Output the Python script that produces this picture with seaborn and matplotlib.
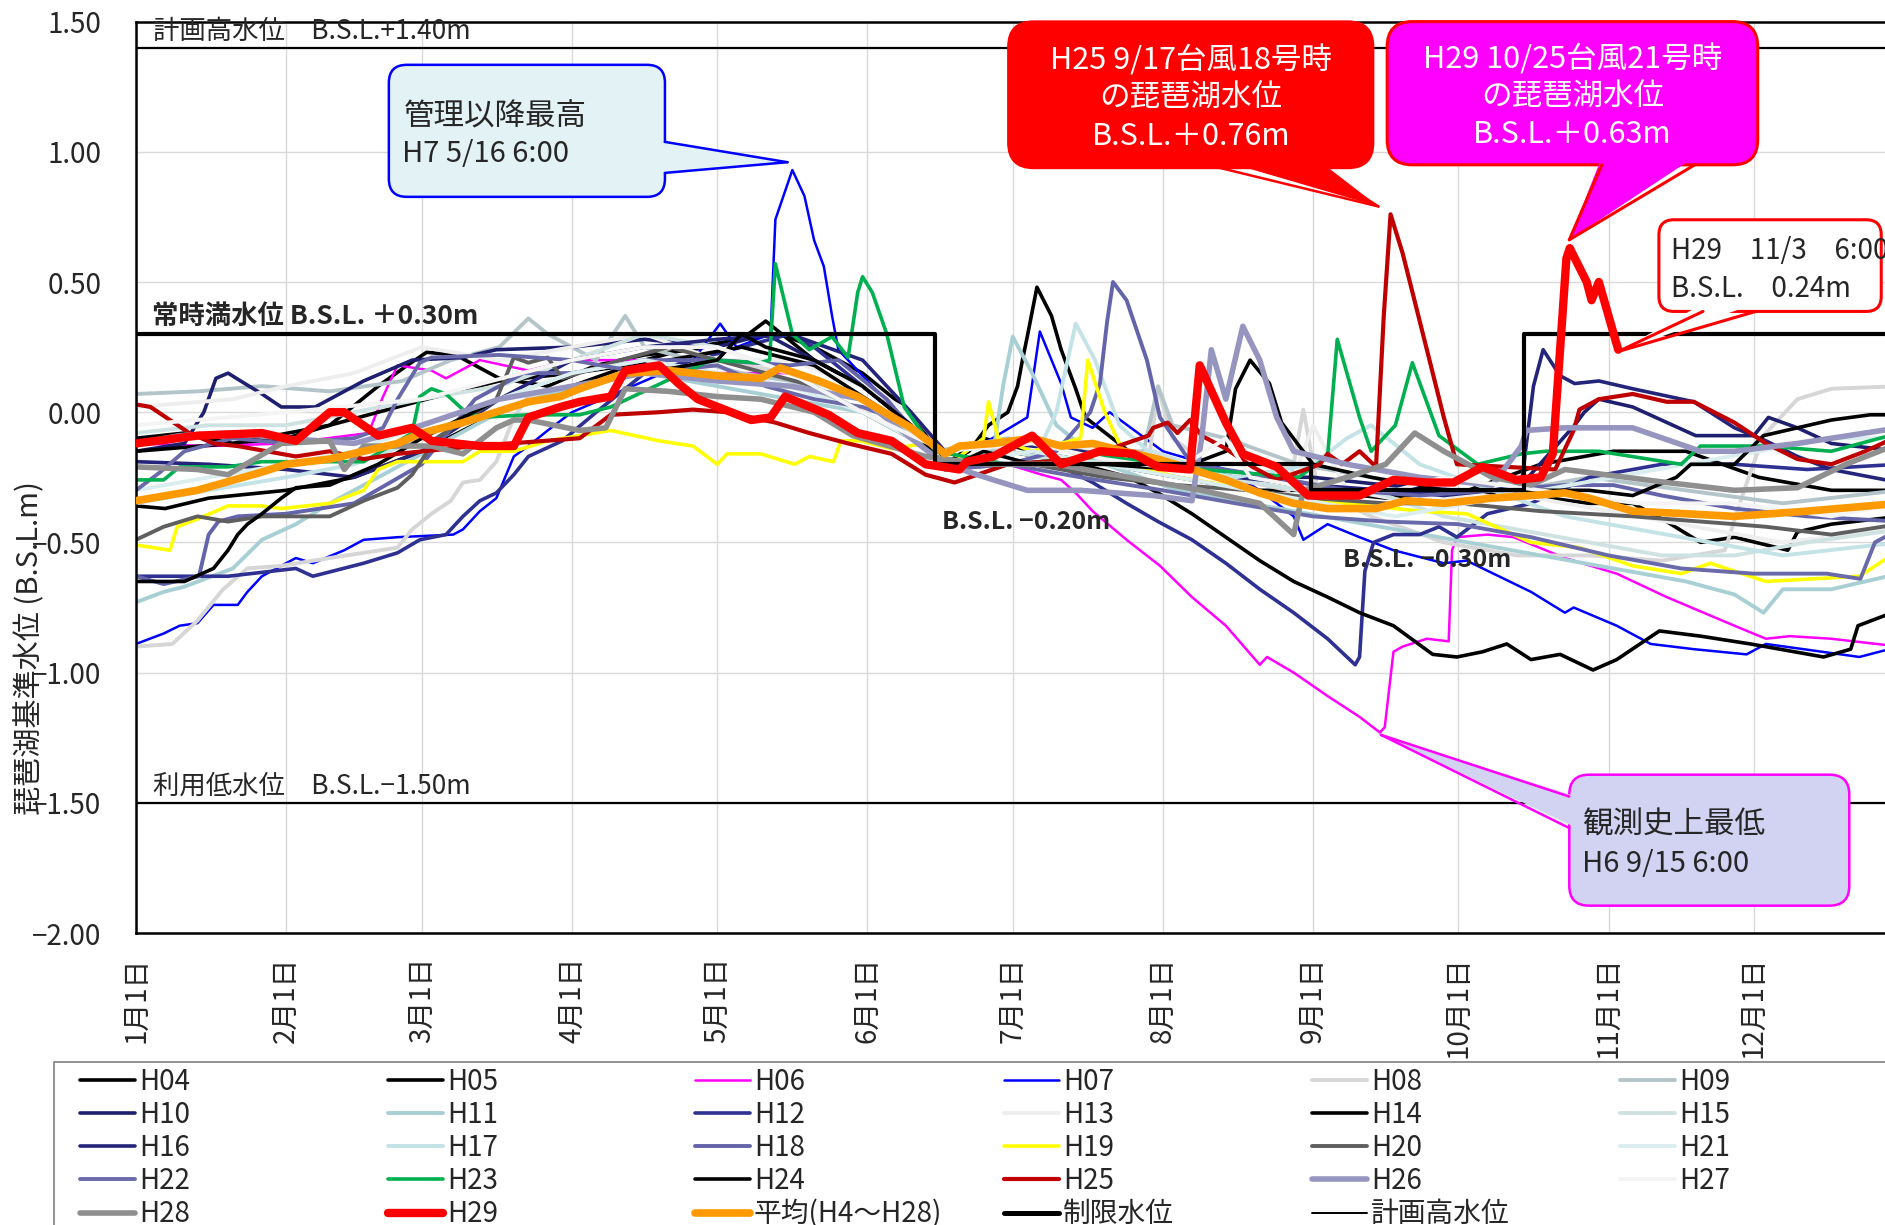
import matplotlib
matplotlib.use("Agg")
import matplotlib.pyplot as plt
from matplotlib.lines import Line2D
from matplotlib.patches import FancyBboxPatch, Polygon, Rectangle
import pandas as pd
import seaborn as sns

# (day counted from Jan 1, lake level B.S.L. m)
H04 = [(0,-0.10),(10,-0.08),(20,-0.12),(31,-0.10),(40,-0.05),(50,0.10),(56,0.18),(60,0.23),(66,0.22),(75,0.13),
       (85,0.10),(95,0.18),(105,0.22),(115,0.24),(125,0.28),(130,0.35),(140,0.20),(150,0.10),(160,-0.05),(167,-0.20),
       (175,-0.10),(185,-0.15),(200,-0.20),(215,-0.25),(230,-0.30),(243,-0.30),(258,-0.33),(273,-0.30),(288,-0.32),
       (300,-0.35),(309,-0.35),(316,-0.42),(323,-0.50),(330,-0.48),(341,-0.53),(343,-0.46),(350,-0.43),(364,-0.40)]
H05 = [(0,-0.36),(6,-0.37),(15,-0.33),(31,-0.30),(45,-0.25),(59,-0.15),(75,0.0),(90,0.10),(105,0.20),(115,0.25),
       (125,0.28),(133,0.30),(140,0.25),(150,0.15),(160,0.0),(167,-0.20),(172,-0.15),(176,-0.05),(180,0.0),(182,0.10),
       (183,0.20),(184,0.29),(186,0.48),(189,0.37),(191,0.24),(194,0.09),(196,-0.02),(205,-0.15),(215,-0.20),
       (230,-0.25),(245,-0.30),(260,-0.32),(275,-0.30),(290,-0.20),(305,-0.15),(320,-0.15),(335,-0.25),(350,-0.30),
       (364,-0.30)]
H06 = [(0,-0.12),(15,-0.13),(31,-0.12),(48,-0.08),(51,0.06),(54,0.18),(61,0.16),(64,0.13),(71,0.20),(81,0.16),
       (90,0.20),(105,0.20),(120,0.15),(135,0.15),(150,0.05),(160,-0.08),(167,-0.20),(180,-0.20),(187,-0.24),
       (191,-0.26),(194,-0.31),(197.5,-0.38),(204.5,-0.49),(211.4,-0.59),(218,-0.71),(225,-0.82),(232,-0.97),
       (233.5,-0.94),(239,-1.00),(246,-1.09),(252.6,-1.17),(256.8,-1.23),(257.8,-1.21),(259.6,-0.92),(261.5,-0.90),
       (266.5,-0.87),(271,-0.88),(271.7,-0.53),(272.7,-0.48),(279,-0.47),(284.4,-0.48),(295,-0.56),(305.7,-0.62),
       (316,-0.71),(330,-0.82),(336.5,-0.87),(341.4,-0.86),(350,-0.87),(364,-0.90)]
H07 = [(0,-0.89),(5.7,-0.85),(9,-0.82),(12.7,-0.81),(16,-0.74),(21,-0.74),(23,-0.69),(26,-0.63),(33,-0.56),
       (36.5,-0.58),(43,-0.53),(47,-0.49),(54,-0.48),(65.5,-0.47),(67.5,-0.45),(71,-0.38),(74.4,-0.33),(78,-0.17),
       (81,-0.13),(85,-0.07),(90,0.0),(105,0.12),(115,0.20),(120.6,0.34),(124,0.25),(131,0.30),(132,0.74),
       (135.5,0.93),(138,0.83),(140,0.66),(142,0.56),(143.7,0.37),(145,0.24),(152,0.10),(160,-0.05),(166,-0.15),
       (175,-0.12),(184,-0.02),(186.6,0.31),(191,0.11),(193,-0.02),(197.5,-0.06),(201,0.0),(212,-0.15),(225,-0.22),
       (232,-0.30),(239,-0.40),(241,-0.49),(246,-0.43),(252.6,-0.48),(259.6,-0.53),(270,-0.58),(274.7,-0.57),
       (288,-0.69),(295,-0.77),(296.8,-0.75),(305.7,-0.82),(312.7,-0.89),(321.6,-0.91),(332.5,-0.93),(336.5,-0.89),
       (355.8,-0.94),(364,-0.90)]
H08 = [(0,-0.90),(7.5,-0.89),(12.7,-0.80),(18,-0.68),(23,-0.60),(30,-0.59),(40,-0.56),(54,-0.52),(57,-0.45),
       (61,-0.39),(65,-0.34),(67.5,-0.27),(71,-0.26),(74.4,-0.19),(78,-0.02),(81,0.06),(90,0.10),(105,0.15),
       (120,0.20),(135,0.15),(150,0.05),(160,-0.08),(167,-0.20),(185,-0.10),(200,-0.20),(209,-0.20),(211,0.09),
       (214,-0.10),(225,-0.25),(238,-0.30),(241,0.01),(244,-0.30),(255,-0.40),(270,-0.50),(285,-0.55),(300,-0.55),
       (315,-0.57),(328,-0.53),(332,-0.30),(336,-0.09),(343,0.05),(350,0.09),(364,0.10)]
H09 = [(0,0.07),(12.7,0.08),(26,0.10),(40,0.08),(55,0.12),(65,0.20),(75,0.25),(81,0.36),(85,0.30),(95,0.20),
       (101,0.37),(105,0.25),(115,0.20),(125,0.15),(135,0.12),(145,0.05),(155,-0.05),(165,-0.15),(180,-0.10),
       (200,-0.15),(208,-0.15),(211,0.10),(214,-0.05),(225,-0.10),(240,-0.20),(255,-0.25),(270,-0.30),(285,-0.30),
       (300,-0.25),(320,-0.30),(340,-0.35),(364,-0.30)]
H10 = [(0,-0.15),(10,-0.12),(14,0.0),(16.5,0.13),(19,0.15),(21.6,0.12),(26,0.07),(30,0.02),(37,0.02),(47,0.12),
       (57,0.20),(67.5,0.21),(74.4,0.24),(90,0.25),(105,0.28),(120,0.25),(130,0.30),(140,0.20),(150,0.10),
       (160,-0.05),(167,-0.20),(180,-0.15),(195,-0.20),(212,-0.20),(227,-0.25),(243,-0.25),(258,-0.28),(273,-0.30),
       (285,-0.30),(297,-0.05),(299,0.0),(302,0.05),(309,0.02),(322,-0.09),(334,-0.09),(337,-0.02),(343,-0.06),
       (350,-0.12),(364,-0.15)]
H11 = [(0,-0.73),(5.7,-0.69),(10,-0.67),(20,-0.60),(26,-0.49),(33,-0.43),(40,-0.35),(50,-0.25),(60,-0.15),
       (75,0.0),(90,0.10),(105,0.15),(120,0.10),(135,0.05),(150,0.0),(160,-0.10),(167,-0.20),(177,-0.15),(179,0.10),
       (181,0.29),(185,0.15),(190,-0.05),(200,-0.20),(215,-0.30),(230,-0.35),(245,-0.40),(260,-0.45),(275,-0.50),
       (290,-0.55),(305,-0.60),(320,-0.65),(330,-0.70),(336,-0.77),(340,-0.68),(350,-0.68),(364,-0.62)]
H12 = [(0,-0.63),(19,-0.63),(33,-0.60),(36.5,-0.63),(47,-0.58),(54,-0.54),(58.6,-0.49),(64,-0.47),(67.5,-0.40),
       (71,-0.34),(74.4,-0.31),(78,-0.24),(81,-0.17),(88,-0.11),(95,0.0),(105,0.15),(115,0.20),(125,0.25),
       (135,0.30),(140,0.25),(150,0.10),(160,-0.05),(167,-0.20),(180,-0.20),(190,-0.20),(197.5,-0.27),(204.5,-0.35),
       (211,-0.42),(218,-0.49),(225,-0.58),(232,-0.68),(239,-0.77),(246,-0.87),(251.7,-0.97),(252.6,-0.94),
       (253.7,-0.61),(255.5,-0.50),(259.6,-0.47),(265,-0.47),(269,-0.44),(272.7,-0.48),(279,-0.39),(288,-0.35),
       (300,-0.25),(315,-0.20),(330,-0.20),(345,-0.22),(364,-0.20)]
H13 = [(0,0.02),(20,0.05),(31,0.10),(45,0.15),(59,0.25),(75,0.20),(90,0.25),(105,0.30),(120,0.20),(135,0.20),
       (150,0.10),(160,0.0),(167,-0.15),(185,-0.10),(200,-0.15),(215,-0.20),(230,-0.25),(240,-0.20),(243,-0.05),
       (250,-0.30),(265,-0.35),(280,-0.30),(295,-0.35),(310,-0.40),(325,-0.45),(340,-0.50),(364,-0.45)]
H14 = [(0,-0.15),(20,-0.12),(40,-0.05),(60,0.05),(75,0.12),(90,0.15),(110,0.20),(125,0.25),(140,0.18),(155,0.0),
       (167,-0.20),(180,-0.15),(195,-0.20),(205,-0.25),(211,-0.31),(218,-0.39),(225,-0.48),(232,-0.57),(239,-0.65),
       (246,-0.71),(252.6,-0.77),(259.6,-0.82),(267.7,-0.93),(272.7,-0.94),(278,-0.92),(283,-0.89),(288,-0.95),
       (294,-0.93),(300.8,-0.99),(305.7,-0.95),(314.5,-0.84),(323,-0.86),(333.3,-0.89),(348.4,-0.94),(354,-0.91),
       (355.5,-0.82),(364,-0.76)]
H15 = [(0,-0.08),(15,-0.05),(31,-0.05),(45,0.0),(59,0.05),(75,0.10),(90,0.20),(105,0.30),(120,0.25),(135,0.15),
       (150,0.05),(160,-0.05),(167,-0.20),(180,-0.15),(195,-0.20),(210,-0.15),(225,-0.25),(240,-0.30),(255,-0.30),
       (270,-0.40),(285,-0.45),(300,-0.50),(315,-0.55),(330,-0.55),(345,-0.50),(364,-0.45)]
H16 = [(0,-0.19),(15,-0.20),(31,-0.22),(45,-0.25),(59,-0.15),(75,0.05),(90,0.20),(105,0.25),(120,0.28),(135,0.30),
       (150,0.20),(160,0.0),(167,-0.15),(180,-0.12),(195,-0.15),(212,-0.20),(227,-0.25),(243,-0.28),(258,-0.30),
       (270,-0.32),(280,-0.30),(286,-0.28),(288.5,0.10),(290.5,0.24),(294,0.14),(297,0.11),(302,0.12),(309,0.09),
       (321.6,0.04),(330,-0.06),(336.5,-0.11),(343,-0.17),(350,-0.22),(364,-0.27)]
H17 = [(0,-0.35),(15,-0.30),(31,-0.25),(45,-0.20),(59,-0.10),(75,0.05),(90,0.15),(105,0.20),(120,0.15),(135,0.10),
       (150,0.05),(160,-0.08),(167,-0.20),(185,-0.20),(190,0.0),(194,0.34),(198,0.20),(203,-0.05),(212,-0.20),
       (227,-0.25),(243,-0.20),(250,-0.10),(255,-0.05),(265,-0.20),(280,-0.30),(295,-0.40),(310,-0.45),(325,-0.50),
       (340,-0.55),(364,-0.50)]
H18 = [(0,-0.63),(5.7,-0.66),(13,-0.63),(15,-0.47),(17,-0.42),(21,-0.40),(31,-0.39),(45,-0.35),(59,-0.20),
       (70,0.05),(80,0.15),(90,0.15),(105,0.20),(120,0.20),(135,0.18),(145,0.20),(155,0.05),(167,-0.22),(180,-0.20),
       (190,-0.15),(197,0.0),(199,0.11),(200.5,0.35),(201.7,0.50),(204.5,0.43),(208.7,0.20),(211.4,-0.02),
       (218,-0.20),(235,-0.25),(250,-0.30),(265,-0.32),(280,-0.30),(295,-0.28),(305,-0.28),(315,-0.32),(330,-0.37),
       (345,-0.40),(364,-0.42)]
H19 = [(0,-0.51),(7,-0.53),(8.5,-0.44),(12.7,-0.41),(19,-0.36),(26,-0.36),(30,-0.37),(40,-0.35),(47,-0.30),
       (50,-0.22),(54,-0.19),(67.5,-0.19),(71,-0.15),(78,-0.15),(85,-0.11),(91.6,-0.09),(98,-0.07),(108,-0.11),
       (115,-0.13),(120,-0.20),(122,-0.16),(129,-0.16),(136,-0.20),(139,-0.17),(144,-0.19),(145.5,-0.11),
       (149.5,-0.11),(156,-0.14),(163,-0.12),(170,-0.17),(175,-0.10),(176,0.04),(178,-0.10),(185,-0.15),(195,-0.10),
       (196.5,0.20),(200,0.0),(205,-0.20),(215,-0.25),(225,-0.28),(237,-0.32),(250,-0.35),(265,-0.38),(274.7,-0.39),
       (288,-0.50),(298,-0.52),(309,-0.59),(319,-0.62),(325,-0.58),(336.5,-0.65),(355.8,-0.63),(364,-0.53)]
H20 = [(0,-0.49),(5.7,-0.44),(12.7,-0.40),(19,-0.42),(26,-0.40),(40,-0.40),(47,-0.34),(54,-0.29),(57,-0.24),
       (62,-0.10),(74.4,0.05),(78,0.21),(81,0.19),(85,0.21),(88,0.13),(100,0.20),(110,0.25),(120,0.20),(130,0.15),
       (140,0.10),(150,0.0),(160,-0.10),(167,-0.20),(185,-0.20),(200,-0.25),(215,-0.28),(230,-0.30),(243,-0.33),
       (258,-0.35),(273,-0.35),(290,-0.38),(309,-0.40),(330,-0.43),(336.5,-0.44),(350,-0.47),(364,-0.43)]
H21 = [(0,-0.30),(15,-0.25),(31,-0.20),(45,-0.15),(59,-0.05),(75,0.05),(90,0.15),(105,0.20),(120,0.15),(135,0.10),
       (150,0.0),(160,-0.10),(167,-0.20),(185,-0.15),(200,-0.20),(215,-0.25),(230,-0.30),(245,-0.35),(260,-0.40),
       (275,-0.35),(290,-0.30),(305,-0.25),(320,-0.20),(335,-0.15),(350,-0.10),(364,-0.10)]
H22 = [(0,-0.30),(5,-0.23),(10,-0.15),(20,-0.10),(31,-0.12),(45,-0.10),(51,-0.06),(54,0.05),(58.6,0.19),(61,0.21),
       (75,0.22),(90,0.20),(105,0.15),(120,0.18),(130,0.10),(140,0.05),(150,0.02),(160,-0.05),(167,-0.22),
       (180,-0.20),(195,-0.25),(212,-0.30),(227,-0.35),(243,-0.40),(258,-0.42),(273,-0.43),(288,-0.48),(304,-0.55),
       (319,-0.60),(334,-0.62),(349,-0.62),(356,-0.64),(359,-0.50),(364,-0.45)]
H23 = [(0,-0.26),(5.7,-0.26),(9,-0.21),(19,-0.21),(26,-0.19),(47,-0.19),(57,-0.08),(58.6,0.06),(61,0.09),(64,0.07),
       (67.5,0.01),(71,-0.02),(81,-0.01),(91.6,-0.01),(98,0.02),(118.6,0.20),(128.8,0.19),(130.8,0.20),(132,0.57),
       (135.5,0.30),(139,0.24),(143.7,0.29),(147,0.21),(149,0.46),(150,0.52),(152,0.46),(155,0.30),(158.6,0.02),
       (165,-0.15),(180,-0.20),(200,-0.17),(220,-0.22),(240,-0.25),(246,-0.17),(248,0.28),(252.6,-0.02),(255,-0.15),
       (260,-0.05),(263.5,0.19),(269,-0.09),(277,-0.20),(286,-0.16),(291,-0.15),(302,-0.15),(319,-0.20),(323,-0.13),
       (336.5,-0.13),(350,-0.15),(364,-0.08)]
H24 = [(0,-0.65),(10,-0.65),(16,-0.60),(19,-0.53),(21,-0.47),(23,-0.43),(26,-0.39),(30,-0.33),(33,-0.29),
       (40,-0.28),(50,-0.20),(59,-0.10),(75,0.05),(90,0.10),(105,0.15),(120,0.20),(125,0.30),(130,0.25),(140,0.20),
       (150,0.10),(160,-0.05),(167,-0.22),(175,-0.15),(185,-0.20),(200,-0.20),(215,-0.22),(225,-0.15),(227,0.09),
       (230,0.20),(234,0.11),(236.5,-0.04),(243,-0.20),(255,-0.25),(270,-0.30),(288,-0.30),(300,-0.30),(309,-0.32),
       (318,-0.25),(321,-0.20),(330,-0.20),(336,-0.09),(343,-0.06),(350,-0.03),(358,-0.01),(364,-0.01)]
H25 = [(0,0.03),(3,0.02),(7,-0.03),(11,-0.08),(16,-0.12),(21,-0.13),(30,-0.16),(33,-0.17),(40,-0.15),(47,-0.18),
       (54,-0.16),(70,-0.13),(91.6,-0.10),(98,-0.01),(108,0.0),(115,0.01),(122,0.0),(132,-0.04),(139,-0.08),
       (147,-0.12),(156,-0.16),(163,-0.24),(169,-0.27),(180,-0.20),(195,-0.18),(209,-0.09),(210,-0.06),(213,-0.04),
       (215,-0.08),(217.6,-0.03),(220,-0.09),(225,-0.14),(230.5,-0.21),(235.5,-0.26),(244.4,-0.20),(246,-0.16),
       (249,-0.20),(252.6,-0.15),(256,-0.21),(257.6,0.37),(259,0.76),(261.5,0.61),(266.5,0.24),(270,-0.02),
       (272.7,-0.20),(293,-0.22),(296.8,-0.07),(298,0.01),(302,0.05),(309,0.07),(316,0.04),(321.6,0.04),(330,-0.04),
       (336.5,-0.12),(343,-0.18),(350,-0.20),(357,-0.15),(364,-0.09)]
H26 = [(0,-0.12),(9,-0.09),(19,-0.08),(31,-0.10),(45,-0.12),(59,-0.05),(75,0.05),(90,0.10),(105,0.15),(120,0.12),
       (135,0.10),(150,0.05),(160,-0.10),(167,-0.20),(177,-0.26),(184,-0.30),(195,-0.30),(210,-0.32),(218,-0.34),
       (220,-0.10),(222,0.24),(225,0.05),(228.5,0.33),(232,0.20),(235.5,-0.02),(239,-0.15),(250,-0.20),(265,-0.25),
       (280,-0.28),(286,-0.13),(287,-0.07),(295,-0.06),(309,-0.06),(323,-0.15),(330,-0.15),(343,-0.12),(364,-0.06)]
H27 = [(0,-0.05),(31,0.0),(59,0.05),(90,0.20),(105,0.25),(120,0.25),(135,0.15),(150,0.0),(167,-0.15),(185,-0.12),
       (200,-0.18),(215,-0.22),(225,-0.10),(230,-0.25),(245,-0.30),(260,-0.30),(270,-0.25),(290,-0.30),(310,-0.35),
       (330,-0.35),(350,-0.40),(364,-0.35)]
H28 = [(0,-0.21),(12.7,-0.22),(19,-0.24),(30,-0.12),(40,-0.11),(43,-0.22),(47,-0.13),(61,-0.13),(67.5,-0.16),
       (74.4,-0.06),(78,-0.03),(81,-0.03),(91.6,-0.07),(97,-0.06),(101,0.09),(110,0.08),(120,0.06),(129,0.05),
       (140,0.0),(148,-0.09),(163,-0.17),(175,-0.20),(190,-0.20),(205,-0.25),(220,-0.30),(232,-0.35),(239,-0.47),
       (241,-0.30),(250,-0.25),(258,-0.20),(264,-0.08),(270,-0.15),(280,-0.25),(288,-0.28),(295,-0.22),(316,-0.27),
       (330,-0.30),(343,-0.29),(353,-0.20),(364,-0.12)]
H29 = [(0,-0.12),(12.7,-0.09),(26,-0.08),(33,-0.11),(40,0.0),(43,0.0),(50,-0.09),(57,-0.06),(61,-0.11),(71,-0.13),
       (78,-0.13),(81,-0.02),(87.6,0.02),(91.6,0.04),(98,0.06),(101,0.16),(108,0.18),(112,0.11),(116,0.05),
       (127,-0.03),(131,-0.02),(134,0.06),(143,-0.01),(149,-0.08),(156,-0.11),(163,-0.20),(170,-0.22),(171.5,-0.19),
       (177,-0.17),(185,-0.09),(191,-0.20),(199,-0.15),(206,-0.16),(211,-0.21),(217.6,-0.22),(219.6,0.18),
       (225,-0.04),(228.5,-0.16),(235.5,-0.21),(242,-0.32),(252.6,-0.32),(259.6,-0.26),(266.5,-0.27),(272,-0.27),
       (278,-0.21),(285,-0.26),(290,-0.25),(292.5,-0.16),(294,0.24),(295.3,0.59),(296,0.63),(299.5,0.50),
       (300.5,0.43),(302,0.50),(306,0.24)]
AVG = [(0,-0.34),(12.6,-0.30),(26,-0.23),(31,-0.20),(40,-0.18),(54,-0.12),(59,-0.08),(67.5,-0.04),(81,0.04),
       (87.6,0.06),(91.6,0.09),(101,0.15),(110,0.16),(120,0.14),(129,0.13),(133,0.17),(141,0.12),(149,0.06),
       (160,-0.06),(167,-0.16),(170,-0.13),(177,-0.12),(185,-0.10),(191,-0.13),(197.5,-0.12),(204,-0.15),
       (211,-0.18),(218,-0.22),(225,-0.26),(232,-0.31),(239,-0.35),(246,-0.37),(256,-0.37),(262,-0.34),(270,-0.35),
       (280,-0.33),(288,-0.32),(295,-0.31),(300,-0.33),(309,-0.38),(320,-0.39),(330,-0.40),(345,-0.38),(364,-0.35)]

LIMIT_DAYS = [0, 165, 165, 242.5, 242.5, 286.5, 286.5, 365]
LIMIT_LVL = [0.30, 0.30, -0.20, -0.20, -0.30, -0.30, 0.30, 0.30]
PLAN_HIGH = 1.40
USE_LOW = -1.50

MONTH_DAYS = [0, 31, 59, 90, 120, 151, 181, 212, 243, 273, 304, 334]
MONTH_LABELS = [f"{m}月1日" for m in range(1, 13)]
Y_TICKS = [-2.0, -1.5, -1.0, -0.5, 0.0, 0.5, 1.0, 1.5]

# name, points, colour, line width (pt)
SERIES = [
    ("H04", H04, "#000000", 2.6), ("H05", H05, "#000000", 2.6), ("H06", H06, "#ff00ff", 1.8),
    ("H07", H07, "#0000ff", 1.8), ("H08", H08, "#d6d6d6", 2.8), ("H09", H09, "#b4c5c9", 2.8),
    ("H10", H10, "#1f1f70", 2.6), ("H11", H11, "#a8d0d4", 2.8), ("H12", H12, "#2e3192", 2.6),
    ("H13", H13, "#eeeeee", 2.8), ("H14", H14, "#000000", 2.6), ("H15", H15, "#cfe2e2", 2.8),
    ("H16", H16, "#24247a", 2.6), ("H17", H17, "#c3e3e6", 2.8), ("H18", H18, "#6464aa", 2.8),
    ("H19", H19, "#ffff00", 2.6), ("H20", H20, "#5f5f5f", 2.8), ("H21", H21, "#dbeeef", 2.8),
    ("H22", H22, "#6a6aaa", 2.8), ("H23", H23, "#00b050", 2.6), ("H24", H24, "#000000", 2.6),
    ("H25", H25, "#c00000", 3.0), ("H26", H26, "#9595bf", 4.0), ("H27", H27, "#f4f4f4", 2.8),
    ("H28", H28, "#8f8f8f", 4.0),
]

sns.set_style("white")
plt.rcParams["font.family"] = ["Noto Sans CJK JP", "DejaVu Sans"]

rows = [(name, d, v) for name, pts, _, _ in SERIES for d, v in pts]
rows += [("H29", d, v) for d, v in H29] + [("AVG", d, v) for d, v in AVG]
df = pd.DataFrame(rows, columns=["series", "day", "level"])
limit_df = pd.DataFrame({"day": LIMIT_DAYS, "level": LIMIT_LVL})

W, H = 1885, 1225
fig = plt.figure(figsize=(W / 100, H / 100), dpi=100)
ax = fig.add_axes([136 / W, 1 - 933 / H, (1904 - 136) / W, (933 - 21.6) / H])

for name, _, col, lw in SERIES:
    sns.lineplot(data=df[df.series == name], x="day", y="level", ax=ax, color=col, lw=lw,
                 estimator=None, sort=False, legend=False, zorder=2)
sns.lineplot(data=df[df.series == "AVG"], x="day", y="level", ax=ax, color="#ff9900", lw=5.5,
             estimator=None, sort=False, legend=False, zorder=4)
sns.lineplot(data=limit_df, x="day", y="level", ax=ax, color="black", lw=3.0,
             estimator=None, sort=False, legend=False, zorder=4.5)
sns.lineplot(data=df[df.series == "H29"], x="day", y="level", ax=ax, color="#ff0000", lw=6.0,
             estimator=None, sort=False, legend=False, zorder=5)
ax.axhline(PLAN_HIGH, color="black", lw=1.6, zorder=3)
ax.axhline(USE_LOW, color="black", lw=1.6, zorder=3)

ax.set_xlim(0, 365)
ax.set_ylim(-2.0, 1.5)
ax.set_xticks(MONTH_DAYS)
ax.set_xticklabels(MONTH_LABELS, rotation=90, fontsize=20)
ax.set_yticks(Y_TICKS)
ax.set_yticklabels([f"{v:.2f}".replace("-", "\u2212") for v in Y_TICKS], fontsize=20)
ax.tick_params(axis="x", direction="in", length=6, width=1.2, pad=17)
ax.tick_params(axis="y", direction="in", length=6, width=1.2, pad=25)
ax.set_xlabel("")
ax.set_ylabel("")
ax.grid(True, color="#d9d9d9", lw=1.0)
ax.set_axisbelow(True)
for sp in ax.spines.values():
    sp.set_color("black")
    sp.set_linewidth(1.8)

fig.text(30 / W, 1 - 648 / H, "琵琶湖基準水位 (B.S.L.m)", rotation=90, ha="center", va="center", fontsize=21)

# level captions
ax.text(3.5, 1.463, "計画高水位\u3000B.S.L.+1.40m", fontsize=19, va="center", zorder=6)
ax.text(3.3, 0.368, "常時満水位 B.S.L. ＋0.30m", fontsize=19, fontweight="bold", va="center", zorder=6)
ax.text(166.3, -0.42, "B.S.L. \u22120.20m", fontsize=18, fontweight="bold", va="center", zorder=6)
ax.text(249.1, -0.567, "B.S.L. \u22120.30m", fontsize=18, fontweight="bold", va="center", zorder=6)
ax.text(3.5, -1.437, "利用低水位\u3000B.S.L.\u22121.50m", fontsize=19, va="center", zorder=6)

ASPECT = (1 / 260.4) / (1 / 4.845)  # metres per day for the same pixel length


def callout(box, base, tip, push, fc, ec, lw, radius):
    x0, y0, x1, y1 = box
    ax.add_patch(FancyBboxPatch((x0, y0), x1 - x0, y1 - y0,
                                boxstyle=f"round,pad=0,rounding_size={radius}",
                                mutation_aspect=ASPECT, fc=fc, ec=ec, lw=lw,
                                zorder=10, clip_on=False))
    (bx1, by1), (bx2, by2) = base
    dx, dy = push
    ax.add_patch(Polygon([(bx1 + dx, by1 + dy), tip, (bx2 + dx, by2 + dy)], closed=True,
                         fc=fc, ec="none", zorder=11, clip_on=False))
    for bx, by in base:
        ax.plot([bx, tip[0]], [by, tip[1]], color=ec, lw=lw, zorder=12,
                solid_capstyle="round", clip_on=False)


callout((52.2, 0.827, 109.2, 1.334), [(109.2, 1.038), (109.2, 0.919)], (134.5, 0.960),
        (-1.5, 0), "#e3f3f5", "#0000ff", 1.8, 3.7)
ax.text(55.3, 1.135, "管理以降最高", fontsize=22, va="center", zorder=13)
ax.text(54.9, 0.99, "H7 5/16 6:00", fontsize=21, va="center", zorder=13)

callout((180.1, 0.938, 255.4, 1.50), [(223.8, 0.938), (244.1, 0.938)], (256.5, 0.79),
        (0, 0.03), "#ff0000", "#ff0000", 1.8, 5.2)
for yy, s in [(1.35, "H25 9/17台風18号時"), (1.205, "の琵琶湖水位"), (1.058, "B.S.L.＋0.76m")]:
    ax.text(217.8, yy, s, fontsize=22, color="white", ha="center", va="center", zorder=13)

callout((258.3, 0.95, 334.8, 1.50), [(302.6, 0.95), (321.8, 0.95)], (295.9, 0.662),
        (0, 0.03), "#ff00ff", "#ff0000", 2.2, 5.2)
for yy, s in [(1.354, "H29 10/25台風21号時"), (1.208, "の琵琶湖水位"), (1.066, "B.S.L.＋0.63m")]:
    ax.text(296.6, yy, s, fontsize=22, color="white", ha="center", va="center", zorder=13)

callout((314.4, 0.387, 360.3, 0.739), [(323.5, 0.387), (334.4, 0.387)], (306.0, 0.233),
        (0, 0.03), "white", "#ff0000", 2.2, 3.1)
ax.text(316.8, 0.618, "H29\u300011/3\u30006:00", fontsize=20, va="center", zorder=13)
ax.text(316.8, 0.472, "B.S.L.\u30000.24m", fontsize=20, va="center", zorder=13)

callout((295.9, -1.895, 353.7, -1.392), [(295.9, -1.476), (295.9, -1.597)], (257.0, -1.239),
        (1.5, 0), "#d2d2f2", "#ff00ff", 1.8, 4.1)
ax.text(298.5, -1.585, "観測史上最低", fontsize=22, va="center", zorder=13)
ax.text(298.5, -1.735, "H6 9/15 6:00", fontsize=21, va="center", zorder=13)

# legend: framed box at the bottom, six equal columns filled row by row
fig.patches.append(Rectangle((54 / W, -0.05), 1.0, (1 - 1061.7 / H) + 0.05, transform=fig.transFigure,
                             fill=False, ec="#7f7f7f", lw=1.2))
entries = [(name, col, lw) for name, _, col, lw in SERIES]
entries += [("H29", "#ff0000", 6.0), ("平均(H4～H28)", "#ff9900", 5.5),
            ("制限水位", "black", 3.6), ("計画高水位", "black", 1.4)]
COL_X = [80, 388, 695, 1004, 1312, 1620]
for c, x in enumerate(COL_X):
    sel = entries[c::6]
    fig.legend(handles=[Line2D([], [], color=col, lw=lw) for _, col, lw in sel],
               labels=[n for n, _, _ in sel], loc="upper left",
               bbox_to_anchor=(x / W, 1 - 1067 / H), bbox_transform=fig.transFigure,
               frameon=False, fontsize=20, handlelength=1.98, handletextpad=0.14,
               labelspacing=0.11, borderpad=0, borderaxespad=0)

fig.savefig("out.png", dpi=100)
